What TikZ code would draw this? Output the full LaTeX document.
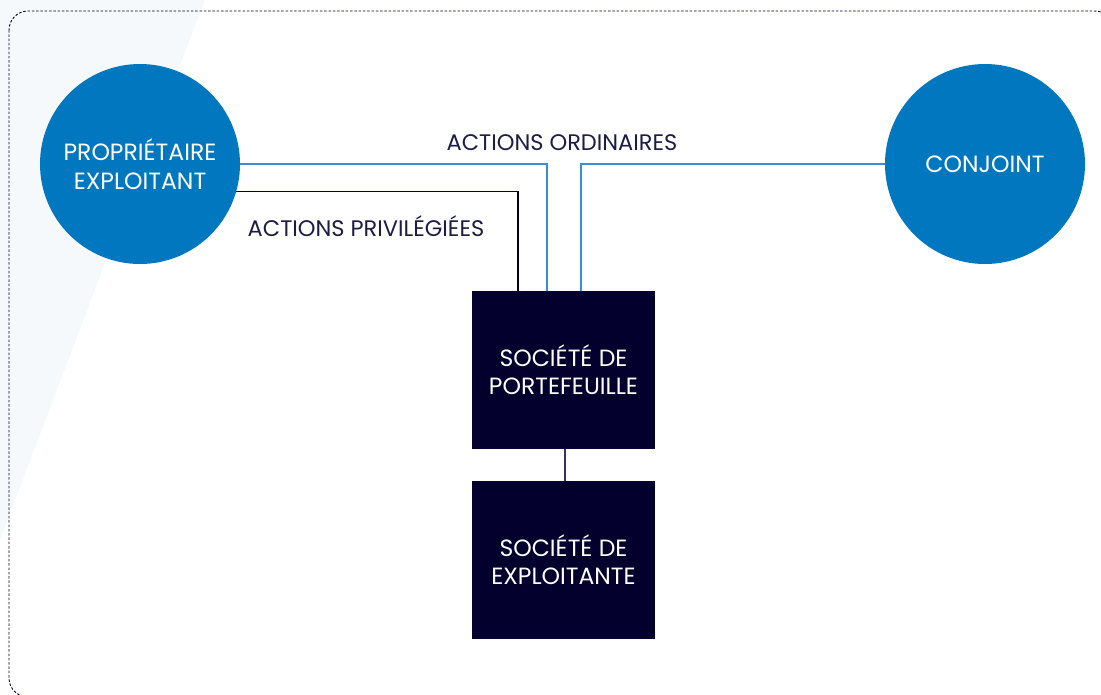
\documentclass[tikz,border=0pt]{standalone}
\usepackage{fontspec}
\setmainfont{Poppins}
\definecolor{cblue}{HTML}{0077BE}
\definecolor{lblue}{HTML}{3A8FD4}
\definecolor{navy}{HTML}{03002E}
\definecolor{txt}{HTML}{1E1B45}
\definecolor{tint}{HTML}{F6F9FB}
\begin{document}
\begin{tikzpicture}[x=1pt,y=-1pt,
  person/.style={circle,fill=cblue,minimum size=200pt,inner sep=0pt,text=white,font=\fontsize{23.5}{29}\selectfont,align=center},
  company/.style={rectangle,fill=navy,minimum width=183pt,minimum height=158pt,inner sep=0pt,text=white,font=\fontsize{23.5}{28}\selectfont,align=center},
  share/.style={text=txt,font=\fontsize{22.5}{26}\selectfont,inner sep=0pt},
  ordline/.style={draw=lblue,line width=1.2pt},
  prefline/.style={draw=navy,line width=1.2pt}]
\useasboundingbox (0,0) rectangle (1101,694);
\fill[tint] (0,0) -- (205,0) -- (0,540) -- cycle;
\draw[navy,line width=0.9pt,dash pattern=on 2.5pt off 1.8pt,rounded corners=19pt] (9,11) rectangle (1114,697);
\node[person] (po) at (140,164) {PROPRIÉTAIRE\\EXPLOITANT};
\node[person] (cj) at (985,164) {CONJOINT};
\node[company] (hold) at (563.5,370) {SOCIÉTÉ DE\\PORTEFEUILLE};
\node[company] (exp) at (563.5,560) {SOCIÉTÉ DE\\EXPLOITANTE};
\coordinate (ha) at ([xshift=-45.5pt]hold.north);
\coordinate (hb) at ([xshift=-16.5pt]hold.north);
\coordinate (hc) at ([xshift=17.5pt]hold.north);
\draw[ordline] (po.east) -| (hb);
\draw[ordline] (cj.west) -| (hc);
\draw[prefline] (po.-16.3) -| (ha);
\draw[draw=navy!80,line width=1.2pt] ([xshift=1.5pt]hold.south) -- ([xshift=1.5pt]exp.north);
\node[share] (ord) at (562,143) {ACTIONS ORDINAIRES};
\node[share] (pref) at (366,226) {ACTIONS PRIVILÉGIÉES};
\end{tikzpicture}
\end{document}
